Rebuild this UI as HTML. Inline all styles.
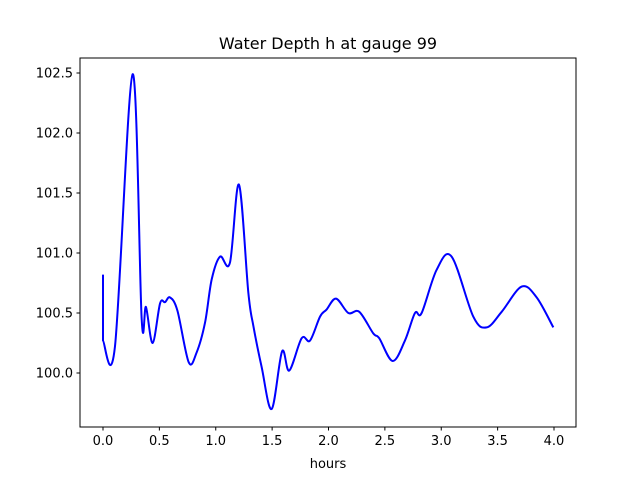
<!DOCTYPE html>
<html><head><meta charset="utf-8"><style>
body{margin:0;background:#fff}
text{font-family:"DejaVu Sans","Liberation Sans",sans-serif;fill:#000}
</style></head><body>
<svg width="640" height="480" xmlns="http://www.w3.org/2000/svg">
<rect width="640" height="480" fill="#fff"/>
<text x="328" y="49" font-size="16" text-anchor="middle">Water Depth h at gauge 99</text>
<g id="axes"></g>
<path id="line" fill="none" stroke="#0000ff" stroke-width="2" stroke-linejoin="round"/>
<rect x="80" y="58" width="496" height="369" fill="none" stroke="#000" stroke-width="1"/>
<text x="328" y="468" font-size="13" text-anchor="middle">hours</text>
</svg>
<script>
const hours=[0,0,0.106,0.263,0.343,0.381,0.44,0.506,0.55,0.594,0.66,0.76,0.83,0.905,0.964,1.038,1.126,1.206,1.289,1.334,1.407,1.496,1.588,1.652,1.762,1.836,1.925,1.984,2.067,2.176,2.273,2.397,2.45,2.569,2.678,2.767,2.826,2.959,3.092,3.284,3.403,3.536,3.713,3.846,3.994];
const depth=[100.82,100.27,100.22,102.49,100.45,100.55,100.25,100.58,100.59,100.63,100.52,100.09,100.17,100.42,100.78,100.97,100.92,101.57,100.67,100.39,100.05,99.70,100.18,100.02,100.29,100.27,100.47,100.53,100.62,100.50,100.51,100.33,100.29,100.10,100.27,100.50,100.50,100.86,100.97,100.47,100.38,100.51,100.72,100.63,100.38];
const xTicks=[0,0.5,1,1.5,2,2.5,3,3.5,4];
const xTickLabels=["0.0","0.5","1.0","1.5","2.0","2.5","3.0","3.5","4.0"];
const yTicks=[100,100.5,101,101.5,102,102.5];
const yTickLabels=["100.0","100.5","101.0","101.5","102.0","102.5"];
const X=t=>103+t*112.75;
const Y=v=>373-(v-100)*120;
const NS="http://www.w3.org/2000/svg";
const ax=document.getElementById('axes');
function mk(tag,attrs,txt){const e=document.createElementNS(NS,tag);for(const k in attrs)e.setAttribute(k,attrs[k]);if(txt!=null)e.textContent=txt;ax.appendChild(e);return e;}
xTicks.forEach((t,i)=>{
 const l=mk('line',{x1:X(t),x2:X(t),y1:427,y2:430.5,stroke:'#000'});
 
 
 const s=mk('text',{x:X(t),y:445,'font-size':13,'text-anchor':'middle'},xTickLabels[i]);
 
 
});
yTicks.forEach((v,i)=>{
 const l=mk('line',{x1:76.5,x2:80,y1:Y(v),y2:Y(v),stroke:'#000'});
 
 
 const s=mk('text',{x:73,y:Y(v)+4.5,'font-size':13,'text-anchor':'end'},yTickLabels[i]);
 
 
});
const P=hours.map((t,i)=>[X(t),Y(depth[i])]);
let d=`M${P[0][0]},${P[0][1]} L${P[1][0]},${P[1][1]}`;
for(let i=1;i<P.length-1;i++){
 const p0=P[Math.max(1,i-1)],p1=P[i],p2=P[i+1],p3=P[Math.min(P.length-1,i+2)];
 const c1=[p1[0]+(p2[0]-p0[0])/6,p1[1]+(p2[1]-p0[1])/6];
 const c2=[p2[0]-(p3[0]-p1[0])/6,p2[1]-(p3[1]-p1[1])/6];
 d+=` C${c1[0]},${c1[1]} ${c2[0]},${c2[1]} ${p2[0]},${p2[1]}`;
}
document.getElementById('line').setAttribute('d',d);
</script>
</body></html>
